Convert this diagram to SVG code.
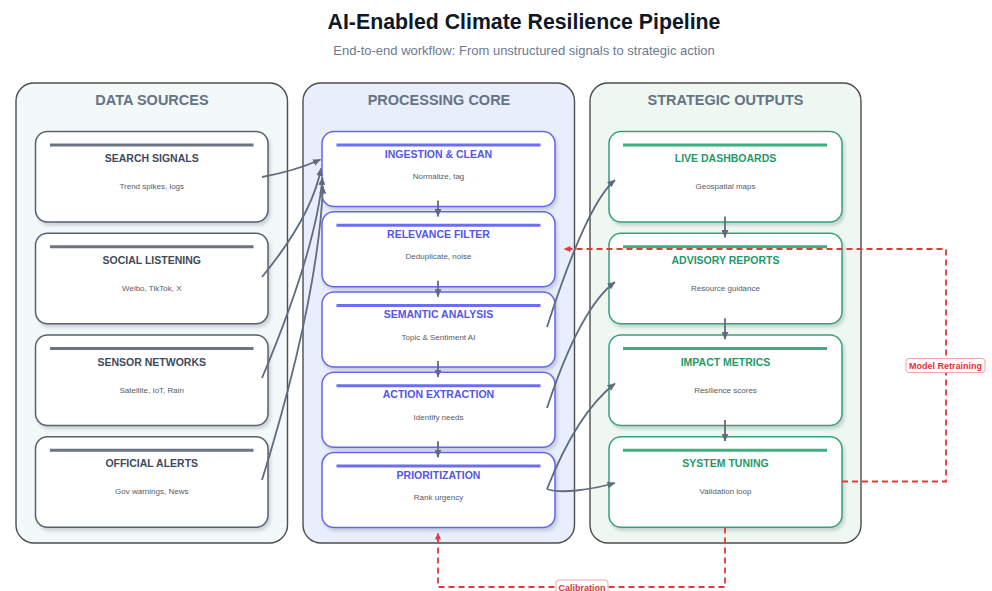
<svg xmlns="http://www.w3.org/2000/svg" width="992" height="591" viewBox="0 0 992 591">
  <defs>
    <style>
      text { font-family: "Liberation Sans", Arial, Helvetica, sans-serif; }
      .title { font-size: 21.3px; font-weight: bold; fill: #101828; }
      .subtitle { font-size: 13px; fill: #6b7a90; }
      .lane { stroke: #4d4d4d; stroke-width: 1.4; }
      .lane-title { font-size: 14.5px; font-weight: bold; fill: #647387; text-anchor: middle; }
      .node { fill: #ffffff; stroke-width: 1.5; filter: url(#shadow); }
      .bar { stroke-width: 3; }
      .ntitle { font-size: 10.5px; font-weight: bold; text-anchor: middle; }
      .nsub { font-size: 8px; fill: #525c6b; text-anchor: middle; }
      .src .node { stroke: #56606f; }
      .src .bar { stroke: #6a7486; }
      .src .ntitle { fill: #3f4a5b; }
      .proc .node { stroke: #6366f1; }
      .proc .bar { stroke: #6c6ff0; }
      .proc .ntitle { fill: #5356e6; }
      .out .node { stroke: #36a27a; }
      .out .bar { stroke: #3fae82; }
      .out .ntitle { fill: #1f9a68; }
      .flow { fill: none; stroke: #5f6b7e; stroke-width: 1.8; marker-end: url(#arrow); }
      .loop { fill: none; stroke: #e03a3a; stroke-width: 1.8; stroke-dasharray: 6 4; }
      .loop-label rect { fill: #ffffff; stroke: #f2a5a5; stroke-width: 1; }
      .loop-label text { font-size: 9px; font-weight: bold; fill: #e03131; text-anchor: middle; }
    </style>
    <filter id="shadow" x="-10%" y="-10%" width="125%" height="130%">
      <feDropShadow dx="2" dy="3" stdDeviation="1.6" flood-color="#334155" flood-opacity="0.2"/>
    </filter>
    <marker id="arrow" viewBox="0 0 8 7" refX="7.5" refY="3.5" markerWidth="8" markerHeight="7" markerUnits="userSpaceOnUse" orient="auto">
      <path d="M0,0 L8,3.5 L0,7 z" fill="#5f6b7e"/>
    </marker>
    <marker id="arrow-red" viewBox="0 0 7 6" refX="6.5" refY="3" markerWidth="7" markerHeight="6" markerUnits="userSpaceOnUse" orient="auto">
      <path d="M0,0 L7,3 L0,6 z" fill="#e03a3a"/>
    </marker>
  </defs>

  <rect x="0" y="0" width="992" height="591" fill="#ffffff"/>

  <!-- Heading -->
  <text class="title" x="524" y="28.5" text-anchor="middle">AI-Enabled Climate Resilience Pipeline</text>
  <text class="subtitle" x="524" y="54.5" text-anchor="middle">End-to-end workflow: From unstructured signals to strategic action</text>

  <!-- Swimlanes -->
  <g id="lane-sources">
    <rect class="lane" x="16" y="83" width="271.5" height="460" rx="18" fill="#f3f8f9"/>
    <text class="lane-title" x="152" y="105">DATA SOURCES</text>
  </g>
  <g id="lane-core">
    <rect class="lane" x="303" y="83" width="271.5" height="460" rx="18" fill="#e9eefc"/>
    <text class="lane-title" x="439" y="105">PROCESSING CORE</text>
  </g>
  <g id="lane-outputs">
    <rect class="lane" x="590" y="83" width="271" height="460" rx="18" fill="#eef7f0"/>
    <text class="lane-title" x="725.5" y="105">STRATEGIC OUTPUTS</text>
  </g>

  <!-- Data source nodes -->
  <g id="search-signals" class="src" transform="translate(35.5,131.5)">
    <rect class="node" width="232.5" height="90.5" rx="12"/>
    <line class="bar" x1="14.5" y1="13.5" x2="218" y2="13.5"/>
    <text class="ntitle" x="116.25" y="30.5">SEARCH SIGNALS</text>
    <text class="nsub" x="116.25" y="57.5">Trend spikes, logs</text>
  </g>
  <g id="social-listening" class="src" transform="translate(35.5,233.3)">
    <rect class="node" width="232.5" height="90.5" rx="12"/>
    <line class="bar" x1="14.5" y1="13.5" x2="218" y2="13.5"/>
    <text class="ntitle" x="116.25" y="30.5">SOCIAL LISTENING</text>
    <text class="nsub" x="116.25" y="57.5">Weibo, TikTok, X</text>
  </g>
  <g id="sensor-networks" class="src" transform="translate(35.5,335)">
    <rect class="node" width="232.5" height="90.5" rx="12"/>
    <line class="bar" x1="14.5" y1="13.5" x2="218" y2="13.5"/>
    <text class="ntitle" x="116.25" y="30.5">SENSOR NETWORKS</text>
    <text class="nsub" x="116.25" y="57.5">Satellite, IoT, Rain</text>
  </g>
  <g id="official-alerts" class="src" transform="translate(35.5,436.7)">
    <rect class="node" width="232.5" height="90.5" rx="12"/>
    <line class="bar" x1="14.5" y1="13.5" x2="218" y2="13.5"/>
    <text class="ntitle" x="116.25" y="30.5">OFFICIAL ALERTS</text>
    <text class="nsub" x="116.25" y="57.5">Gov warnings, News</text>
  </g>

  <!-- Processing nodes -->
  <g id="ingestion-clean" class="proc" transform="translate(322,131.5)">
    <rect class="node" width="233" height="75" rx="12"/>
    <line class="bar" x1="14.5" y1="13.5" x2="218.5" y2="13.5"/>
    <text class="ntitle" x="116.5" y="26">INGESTION &amp; CLEAN</text>
    <text class="nsub" x="116.5" y="47.5">Normalize, tag</text>
  </g>
  <g id="relevance-filter" class="proc" transform="translate(322,211.8)">
    <rect class="node" width="233" height="75" rx="12"/>
    <line class="bar" x1="14.5" y1="13.5" x2="218.5" y2="13.5"/>
    <text class="ntitle" x="116.5" y="26">RELEVANCE FILTER</text>
    <text class="nsub" x="116.5" y="47.5">Deduplicate, noise</text>
  </g>
  <g id="semantic-analysis" class="proc" transform="translate(322,292)">
    <rect class="node" width="233" height="75" rx="12"/>
    <line class="bar" x1="14.5" y1="13.5" x2="218.5" y2="13.5"/>
    <text class="ntitle" x="116.5" y="26">SEMANTIC ANALYSIS</text>
    <text class="nsub" x="116.5" y="47.5">Topic &amp; Sentiment AI</text>
  </g>
  <g id="action-extraction" class="proc" transform="translate(322,372.3)">
    <rect class="node" width="233" height="75" rx="12"/>
    <line class="bar" x1="14.5" y1="13.5" x2="218.5" y2="13.5"/>
    <text class="ntitle" x="116.5" y="26">ACTION EXTRACTION</text>
    <text class="nsub" x="116.5" y="47.5">Identify needs</text>
  </g>
  <g id="prioritization" class="proc" transform="translate(322,452.6)">
    <rect class="node" width="233" height="75" rx="12"/>
    <line class="bar" x1="14.5" y1="13.5" x2="218.5" y2="13.5"/>
    <text class="ntitle" x="116.5" y="26">PRIORITIZATION</text>
    <text class="nsub" x="116.5" y="47.5">Rank urgency</text>
  </g>

  <!-- Output nodes -->
  <g id="live-dashboards" class="out" transform="translate(609,131.5)">
    <rect class="node" width="233" height="90.5" rx="12"/>
    <line class="bar" x1="14" y1="13.5" x2="218" y2="13.5"/>
    <text class="ntitle" x="116.5" y="30.5">LIVE DASHBOARDS</text>
    <text class="nsub" x="116.5" y="57.5">Geospatial maps</text>
  </g>
  <g id="advisory-reports" class="out" transform="translate(609,233.3)">
    <rect class="node" width="233" height="90.5" rx="12"/>
    <line class="bar" x1="14" y1="13.5" x2="218" y2="13.5"/>
    <text class="ntitle" x="116.5" y="30.5">ADVISORY REPORTS</text>
    <text class="nsub" x="116.5" y="57.5">Resource guidance</text>
  </g>
  <g id="impact-metrics" class="out" transform="translate(609,335)">
    <rect class="node" width="233" height="90.5" rx="12"/>
    <line class="bar" x1="14" y1="13.5" x2="218" y2="13.5"/>
    <text class="ntitle" x="116.5" y="30.5">IMPACT METRICS</text>
    <text class="nsub" x="116.5" y="57.5">Resilience scores</text>
  </g>
  <g id="system-tuning" class="out" transform="translate(609,436.7)">
    <rect class="node" width="233" height="90.5" rx="12"/>
    <line class="bar" x1="14" y1="13.5" x2="218" y2="13.5"/>
    <text class="ntitle" x="116.5" y="30.5">SYSTEM TUNING</text>
    <text class="nsub" x="116.5" y="57.5">Validation loop</text>
  </g>

  <!-- Connectors -->
  <g id="connectors">
    <!-- sources into ingestion -->
    <path class="flow" d="M262,177 Q295,171 320.5,159.5"/>
    <path class="flow" d="M262,277 Q312,216 321,168.5"/>
    <path class="flow" d="M262,378 Q316,250 322.5,177.5"/>
    <path class="flow" d="M262,480 Q318,300 323,186"/>

    <!-- processing chain -->
    <path class="flow" d="M438,200.5 V216.5"/>
    <path class="flow" d="M438,280.8 V296.8"/>
    <path class="flow" d="M438,361 V377"/>
    <path class="flow" d="M438,441.3 V457.3"/>

    <!-- processing into outputs -->
    <path class="flow" d="M547,327 Q587,203 615,180"/>
    <path class="flow" d="M547,408 Q580,308 615,282"/>
    <path class="flow" d="M547,489 Q577,413 615,383.5"/>
    <path class="flow" d="M547,489 C560,494 590,490 615,483"/>

    <!-- output chain -->
    <path class="flow" d="M725,216.5 V237.5"/>
    <path class="flow" d="M725,318.3 V339.3"/>
    <path class="flow" d="M725,420 V441"/>

    <!-- feedback loops -->
    <path class="loop" d="M842,481.5 H946 V249 H564" marker-end="url(#arrow-red)"/>
    <path class="loop" d="M725,527.5 V587 H438 V533" marker-end="url(#arrow-red)"/>
    <g class="loop-label">
      <rect x="906" y="358.5" width="79" height="14" rx="3"/>
      <text x="945.5" y="368.8">Model Retraining</text>
    </g>
    <g class="loop-label">
      <rect x="556" y="580" width="52" height="14" rx="3"/>
      <text x="582" y="590.5">Calibration</text>
    </g>
  </g>
</svg>
